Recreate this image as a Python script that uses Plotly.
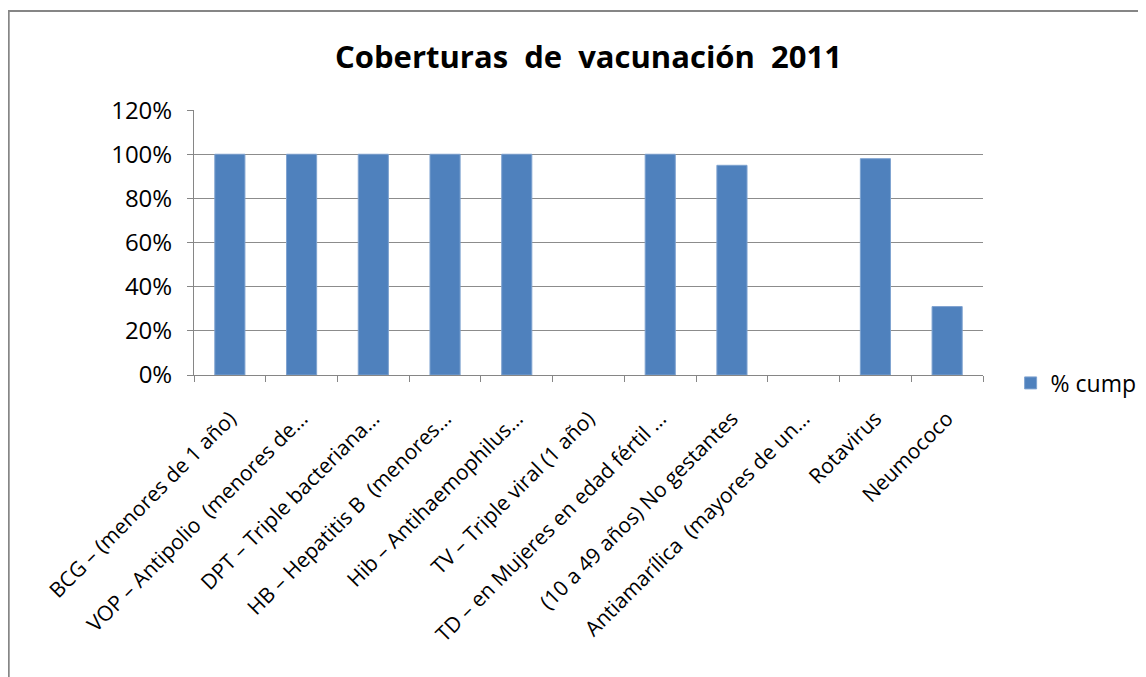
import plotly.graph_objects as go

# Vaccination coverage data
categories = [
    "BCG – (menores de 1 año)",
    "VOP – Antipolio  (menores de…",
    "DPT – Triple bacteriana…",
    "HB – Hepatitis B  (menores…",
    "Hib – Antihaemophilus…",
    "TV – Triple viral (1 año)",
    "TD – en Mujeres en edad fértil …",
    "(10 a 49 años) No gestantes",
    "Antiamarílica  (mayores de un…",
    "Rotavirus",
    "Neumococo",
]
pct_cump = [1.00, 1.00, 1.00, 1.00, 1.00, None, 1.00, 0.95, None, 0.98, 0.31]
y_ticks = [0, 0.2, 0.4, 0.6, 0.8, 1.0, 1.2]
y_ticklabels = ["0%", "20%", "40%", "60%", "80%", "100%", "120%"]

fig = go.Figure()
fig.add_trace(go.Bar(
    x=categories,
    y=pct_cump,
    name="% cump",
    marker=dict(color="#4F81BD", line=dict(color="#7FA3D0", width=1)),
    showlegend=True,
))

font_family = "Open Sans, Noto Sans, Liberation Sans, sans-serif"

# page body adds an 8px offset, so the figure is laid out in shifted coords
fig.update_layout(
    width=1146,
    height=677,
    paper_bgcolor="white",
    plot_bgcolor="white",
    margin=dict(l=186, r=168, t=102, b=310),
    font=dict(family=font_family, size=20, color="#000000"),
    title=dict(
        text="<b>Coberturas  de  vacunación  2011</b>",
        x=0.5, xanchor="center", xref="paper",
        y=1 - 49 / 677, yref="container", yanchor="middle",
        font=dict(size=31, family=font_family),
    ),
    bargap=0.58,
    legend=dict(
        x=1.035, xanchor="left", y=-0.03, yanchor="middle",
        font=dict(size=23), itemwidth=30,
        bgcolor="rgba(0,0,0,0)",
    ),
    xaxis=dict(
        showline=True, linecolor="#868686", linewidth=1,
        ticks="outside", tickson="boundaries", ticklen=6, tickcolor="#868686",
        tickangle=-45, tickfont=dict(size=21),
        ticklabelstandoff=22,
        showgrid=False,
    ),
    yaxis=dict(
        range=[0, 1.2005],
        tickvals=y_ticks, ticktext=y_ticklabels,
        showline=True, linecolor="#868686", linewidth=1,
        ticks="outside", ticklen=6, tickcolor="#868686",
        showgrid=True, gridcolor="#8C8C8C", gridwidth=1,
        tickfont=dict(size=24),
        ticklabelstandoff=10,
        zeroline=False,
    ),
    shapes=[dict(
        type="rect", xref="paper", yref="paper",
        x0=(0 - 186) / 792, x1=1.5, y0=-2, y1=(367 - 3) / 265,
        line=dict(color="#868686", width=2), fillcolor="rgba(0,0,0,0)",
        layer="below",
    )],
)

fig.write_html("out.html")
